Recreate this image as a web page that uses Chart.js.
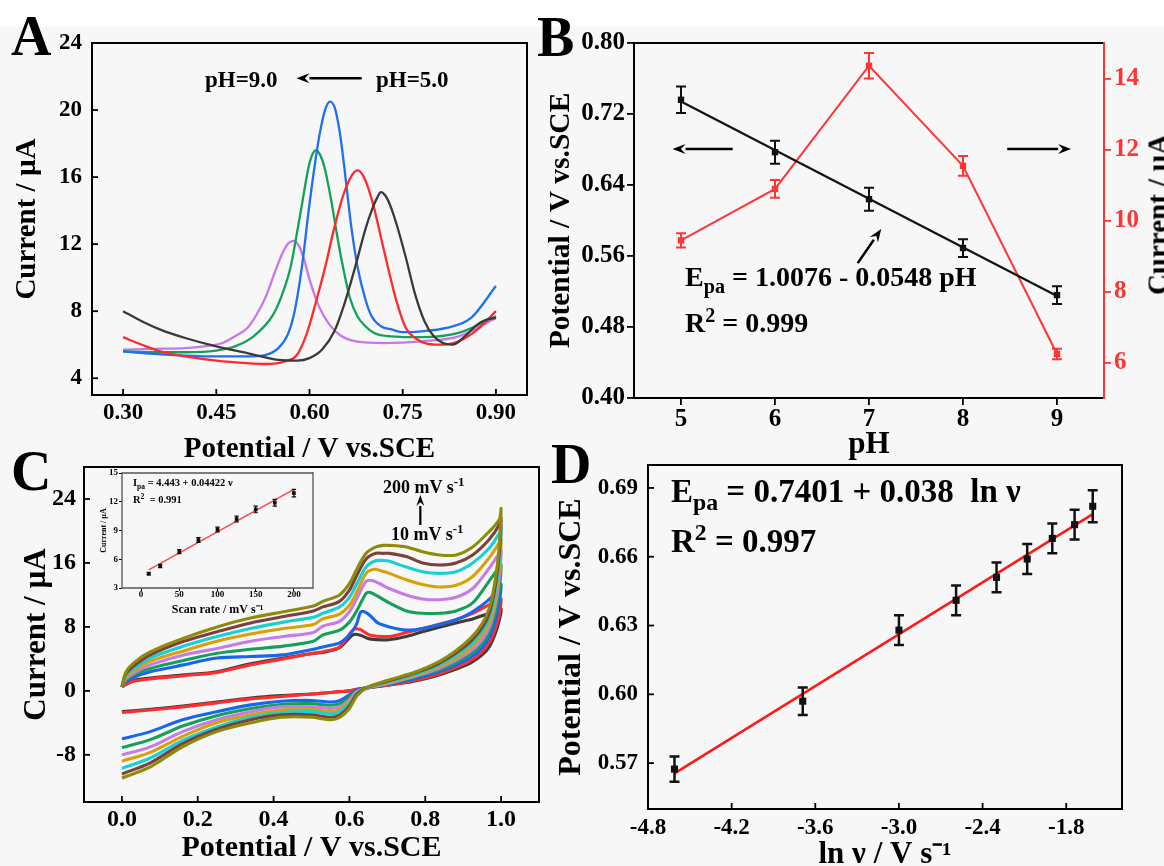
<!DOCTYPE html>
<html><head><meta charset="utf-8">
<script src="https://cdn.jsdelivr.net/npm/chart.js@4.4.1/dist/chart.umd.min.js"></script>
<style>
html,body{margin:0;padding:0;overflow:hidden;background:#f7f7f7;}
#wrap{position:relative;width:1164px;height:866px;overflow:hidden;background:#f7f7f7;}
#topstrip{position:absolute;left:0;top:0;width:1164px;height:27px;background:#ffffff;}
canvas{position:absolute;}
.t{position:absolute;font-family:'Liberation Serif','Times New Roman',serif;font-weight:bold;line-height:1;white-space:nowrap;color:#000;}
.t sub,.t sup{font-size:0.72em;line-height:0;}
</style></head>
<body><div id="wrap">
<div id="topstrip"></div>
<canvas id="cA" width="540" height="470" style="left:0px;top:0px"></canvas>
<canvas id="cB" width="624" height="470" style="left:540px;top:0px"></canvas>
<canvas id="cC" width="545" height="426" style="left:0px;top:440px"></canvas>
<canvas id="cD" width="624" height="440" style="left:540px;top:440px"></canvas>
<canvas id="cI" width="230" height="152" style="left:95px;top:465px"></canvas>

<div class="t" style="left:11px;top:8px;font-size:56px">A</div>
<div class="t" style="left:537px;top:9px;font-size:56px">B</div>
<div class="t" style="left:11px;top:443px;font-size:56px">C</div>
<div class="t" style="left:551px;top:436px;font-size:56px">D</div>

<div class="t" style="left:205px;top:68px;font-size:23px">pH=9.0</div>
<div class="t" style="left:376px;top:68px;font-size:23px">pH=5.0</div>

<div class="t" style="left:685px;top:263px;font-size:28px">E<sub>pa</sub> = 1.0076 - 0.0548 pH</div>
<div class="t" style="left:685px;top:309px;font-size:28px">R<sup>2</sup> = 0.999</div>
<div class="t" style="left:1008px;top:199.5px;width:300px;text-align:center;font-size:29px;transform:rotate(-90deg);transform-origin:150px 14.5px;">Current / µA</div>

<div class="t" style="left:383px;top:478px;font-size:18px">200 mV s<sup>-1</sup></div>
<div class="t" style="left:391px;top:525px;font-size:18px">10 mV s<sup>-1</sup></div>
<div class="t" style="left:133px;top:478px;font-size:10.5px">I<sub>pa</sub> = 4.443 + 0.04422 ν</div>
<div class="t" style="left:133px;top:495px;font-size:10.5px">R<sup>2</sup>&nbsp; = 0.991</div>

<div class="t" style="left:671px;top:475px;font-size:33px">E<sub>pa</sub> = 0.7401 + 0.038&nbsp; ln ν</div>
<div class="t" style="left:671px;top:525px;font-size:33px">R<sup>2</sup> = 0.997</div>
</div>
<script>
// ================= DATA =================
// Panel A : DPV at pH 5.0 ... 9.0  (potential V, current µA)
const A_X_TICKS = [0.30, 0.45, 0.60, 0.75, 0.90];
const A_Y_TICKS = [4, 8, 12, 16, 20, 24];
const A_PH5_V = [0.30,0.33,0.36,0.40,0.45,0.50,0.55,0.58,0.60,0.62,0.64,0.655,0.674,0.69,0.70,0.708,0.715,0.722,0.73,0.74,0.755,0.77,0.785,0.80,0.815,0.83,0.85,0.87,0.885,0.90];
const A_PH5_I = [8.0,7.4,6.9,6.4,5.9,5.5,5.1,5.05,5.2,5.7,6.8,8.3,10.7,12.9,14.0,14.7,15.1,14.9,14.3,13.2,11.2,9.0,7.4,6.5,6.1,6.0,6.5,7.2,7.5,7.6];
const A_PH6_V = [0.30,0.33,0.36,0.40,0.45,0.50,0.53,0.56,0.58,0.595,0.61,0.625,0.64,0.655,0.665,0.672,0.678,0.686,0.695,0.705,0.715,0.727,0.74,0.755,0.77,0.79,0.81,0.84,0.87,0.90];
const A_PH6_I = [6.45,6.0,5.6,5.3,5.05,4.9,4.85,5.0,5.4,6.6,8.5,10.6,13.0,15.0,15.9,16.3,16.4,16.1,15.3,14.0,12.4,10.5,8.6,7.0,6.4,6.05,6.0,6.2,6.9,8.0];
const A_PH7_V = [0.30,0.35,0.40,0.45,0.50,0.53,0.55,0.565,0.575,0.588,0.598,0.608,0.617,0.625,0.633,0.641,0.649,0.656,0.667,0.677,0.69,0.70,0.715,0.733,0.75,0.78,0.82,0.86,0.90];
const A_PH7_I = [5.6,5.45,5.35,5.3,5.3,5.4,5.8,6.6,7.8,10.7,13.8,16.6,18.7,20.0,20.5,20.1,18.6,16.6,13.1,10.7,8.7,7.7,7.1,6.9,6.75,6.8,7.0,7.6,9.5];
const A_PH8_V = [0.30,0.35,0.40,0.45,0.48,0.51,0.54,0.555,0.57,0.58,0.588,0.598,0.604,0.61,0.616,0.624,0.635,0.645,0.653,0.665,0.677,0.69,0.704,0.73,0.78,0.84,0.90];
const A_PH8_I = [5.6,5.55,5.55,5.65,5.9,6.5,7.7,8.9,10.7,12.7,14.4,16.5,17.3,17.6,17.4,16.6,14.6,12.4,10.8,8.8,7.7,7.1,6.7,6.5,6.45,6.7,7.7];
const A_PH9_V = [0.30,0.35,0.40,0.43,0.46,0.48,0.50,0.515,0.53,0.545,0.557,0.566,0.574,0.583,0.592,0.60,0.615,0.632,0.65,0.675,0.72,0.78,0.84,0.90];
const A_PH9_I = [5.7,5.75,5.8,5.9,6.1,6.5,7.0,7.8,8.9,10.4,11.5,12.05,12.2,11.9,11.0,9.9,8.3,7.2,6.55,6.2,6.1,6.2,6.5,7.6];
const A_ARROW = [0.684, 21.9, 0.579, 21.9];

// Panel B : Epa and Ipa vs pH
const B_X_TICKS = [5, 6, 7, 8, 9];
const B_Y_TICKS = [0.40, 0.48, 0.56, 0.64, 0.72, 0.80];
const B_Y2_TICKS = [6, 8, 10, 12, 14];
const B_PH = [5, 6, 7, 8, 9];
const B_EPA = [0.736, 0.677, 0.624, 0.569, 0.516];
const B_EPA_ERR = [0.015, 0.013, 0.013, 0.010, 0.010];
const B_FIT_PH = [5, 9];
const B_FIT_EPA = [0.734, 0.515];
const B_IPA = [9.44, 10.89, 14.36, 11.54, 6.24];
const B_IPA_ERR = [0.20, 0.25, 0.36, 0.28, 0.15];
const B_ARROWS = [[5.55, 0.6806, 4.91, 0.6806], [8.47, 0.6806, 9.15, 0.6806], [6.88, 0.552, 7.13, 0.5904]];

// Panel C : CVs at 10 ... 200 mV/s
const C_X_TICKS = [0.0, 0.2, 0.4, 0.6, 0.8, 1.0];
const C_Y_TICKS = [-8, 0, 8, 16, 24];
const C_RATES = [10, 25, 50, 75, 100, 125, 150, 175, 200];
const C_V_UP_10 = [0,0.01,0.031,0.075,0.163,0.251,0.339,0.426,0.505,0.53,0.574,0.609,0.627,0.653,0.705,0.75,0.793,0.881,0.925,0.95,0.98,1.0];
const C_I_UP_10 = [0.5,0.8,1.3,1.6,2.0,2.4,3.4,4.1,4.7,4.8,5.4,7.0,7.0,6.5,6.4,6.8,7.4,8.5,9.0,9.4,9.9,10.3];
const C_V_UP_25 = [0,0.01,0.031,0.075,0.163,0.251,0.339,0.426,0.505,0.53,0.574,0.609,0.627,0.653,0.705,0.75,0.793,0.881,0.925,0.968,0.995,1.0];
const C_I_UP_25 = [0.5,0.8,1.2,1.5,1.9,2.3,3.25,4.0,4.7,4.9,5.5,7.6,7.7,7.0,6.8,7.3,7.8,8.9,9.7,10.75,11.4,11.5];
const C_V_UP_50 = [0,0.01,0.031,0.075,0.163,0.251,0.339,0.426,0.505,0.53,0.574,0.60,0.618,0.631,0.65,0.675,0.705,0.75,0.793,0.881,0.925,0.968,0.995,1.0];
const C_I_UP_50 = [0.5,1.1,1.7,2.4,3.25,4.1,4.3,4.5,5.2,5.5,6.0,7.0,8.25,9.9,9.6,8.5,8.0,7.6,7.8,8.9,9.9,11.4,13.0,13.3];
const C_V_UP_75 = [0,0.01,0.031,0.075,0.163,0.251,0.339,0.426,0.505,0.53,0.574,0.60,0.618,0.644,0.655,0.68,0.705,0.75,0.793,0.837,0.881,0.925,0.968,0.995,1.0];
const C_I_UP_75 = [0.5,1.3,2.0,2.8,3.8,4.7,5.2,5.6,6.2,7.0,7.6,8.6,9.9,12.2,12.3,11.7,11.0,10.0,9.7,9.7,10.0,11.0,13.7,15.5,15.8];
const C_V_UP_100 = [0,0.01,0.031,0.075,0.163,0.251,0.339,0.426,0.505,0.53,0.574,0.60,0.618,0.644,0.66,0.68,0.705,0.75,0.793,0.837,0.881,0.925,0.968,0.995,1.0];
const C_I_UP_100 = [0.5,1.5,2.2,3.25,4.5,5.3,6.2,6.8,7.3,8.1,8.7,9.9,11.4,13.7,13.8,13.4,12.8,12.0,11.5,11.4,11.7,12.8,15.3,17.2,17.6];
const C_V_UP_125 = [0,0.01,0.031,0.075,0.163,0.251,0.339,0.426,0.505,0.53,0.574,0.60,0.618,0.644,0.665,0.685,0.705,0.75,0.793,0.837,0.881,0.925,0.968,0.995,1.0];
const C_I_UP_125 = [0.5,1.7,2.5,3.7,5.0,6.2,7.1,7.8,8.3,9.0,9.6,10.7,12.2,14.7,15.2,15.0,14.7,13.9,13.3,13.0,13.2,14.3,16.6,18.5,18.9];
const C_V_UP_150 = [0,0.01,0.031,0.075,0.163,0.251,0.339,0.426,0.505,0.53,0.574,0.60,0.618,0.644,0.67,0.69,0.705,0.75,0.793,0.837,0.881,0.925,0.968,0.995,1.0];
const C_I_UP_150 = [0.5,1.9,2.8,4.1,5.6,6.8,7.8,8.6,9.2,9.7,10.5,11.7,13.25,15.5,16.3,16.3,16.2,15.5,14.9,14.7,14.9,16.0,17.8,19.7,20.4];
const C_V_UP_175 = [0,0.01,0.031,0.075,0.163,0.251,0.339,0.426,0.505,0.53,0.574,0.60,0.618,0.644,0.67,0.69,0.705,0.75,0.793,0.837,0.881,0.925,0.968,0.995,1.0];
const C_I_UP_175 = [0.5,2.1,3.1,4.5,6.2,7.4,8.5,9.3,10.0,10.5,11.2,12.6,14.3,16.5,17.2,17.2,17.2,16.8,16.0,15.75,16.0,17.0,18.9,20.75,21.6];
const C_V_UP_200 = [0,0.01,0.031,0.075,0.163,0.251,0.339,0.426,0.505,0.53,0.574,0.60,0.618,0.644,0.67,0.69,0.705,0.75,0.793,0.837,0.881,0.925,0.968,0.995,1.0];
const C_I_UP_200 = [0.5,2.3,3.5,4.9,6.6,8.0,9.1,9.9,10.6,11.2,12.0,13.4,15.1,17.2,18.0,18.2,18.2,18.0,17.4,17.0,17.0,18.0,19.9,21.4,22.8];
const C_V_DOWN = [0.995,0.985,0.97,0.95,0.92,0.88,0.83,0.77,0.70,0.65,0.62,0.60,0.575,0.55,0.50,0.42,0.34,0.25,0.16,0.075,0.0];
const C_I_DOWN_10 = [8.8,7.2,5.6,4.5,3.5,2.7,1.9,1.2,0.7,0.4,0.2,0.0,-0.1,-0.2,-0.4,-0.6,-0.9,-1.4,-1.9,-2.3,-2.6];
const C_I_DOWN_25 = [9.5,7.8,6.1,4.9,3.8,2.9,2.0,1.3,0.7,0.4,0.2,0.0,-0.1,-0.2,-0.4,-0.7,-1.0,-1.5,-2.0,-2.4,-2.7];
const C_I_DOWN_50 = [11.0,8.8,6.8,5.4,4.2,3.2,2.3,1.5,0.8,0.4,0.1,-0.5,-1.2,-1.4,-1.2,-1.3,-1.75,-2.6,-3.6,-5.1,-6.0];
const C_I_DOWN_75 = [12.5,9.8,7.5,5.9,4.6,3.5,2.5,1.7,0.9,0.4,0.0,-0.8,-1.6,-1.8,-1.6,-1.7,-2.2,-3.1,-4.4,-6.1,-7.1];
const C_I_DOWN_100 = [14.0,10.8,8.1,6.4,5.0,3.8,2.7,1.8,0.9,0.4,-0.1,-1.1,-2.0,-2.2,-2.0,-2.0,-2.6,-3.6,-5.1,-7.0,-8.0];
const C_I_DOWN_125 = [15.0,11.6,8.7,6.9,5.4,4.1,2.9,1.9,1.0,0.5,-0.2,-1.3,-2.3,-2.6,-2.3,-2.4,-3.0,-4.0,-5.7,-7.7,-8.8];
const C_I_DOWN_150 = [16.0,12.4,9.3,7.4,5.8,4.4,3.1,2.0,1.1,0.5,-0.3,-1.6,-2.6,-2.9,-2.6,-2.7,-3.3,-4.5,-6.2,-8.4,-9.7];
const C_I_DOWN_175 = [17.0,13.2,9.9,7.9,6.2,4.7,3.3,2.2,1.2,0.5,-0.4,-1.9,-3.0,-3.3,-3.0,-3.0,-3.6,-4.8,-6.6,-9.0,-10.4];
const C_I_DOWN_200 = [18.0,14.0,10.5,8.4,6.6,5.0,3.5,2.3,1.3,0.5,-0.6,-2.2,-3.3,-3.6,-3.3,-3.3,-4.0,-5.1,-7.0,-9.5,-10.9];
const C_ARROW = [0.787, 20.75, 0.787, 24.5];

// Panel C inset : Ipa vs scan rate
const IN_X_TICKS = [0, 50, 100, 150, 200];
const IN_Y_TICKS = [3, 6, 9, 12, 15];
const IN_RATE = [10, 25, 50, 75, 100, 125, 150, 175, 200];
const IN_IPA = [4.5, 5.3, 6.8, 8.0, 9.1, 10.2, 11.2, 11.9, 12.9];
const IN_ERR = [0.12, 0.18, 0.22, 0.25, 0.25, 0.30, 0.35, 0.35, 0.40];
const IN_FIT_X = [10, 200];
const IN_FIT_Y = [4.88, 13.29];

// Panel D : Epa vs ln(v)
const D_X_TICKS = [-4.8, -4.2, -3.6, -3.0, -2.4, -1.8];
const D_Y_TICKS = [0.57, 0.60, 0.63, 0.66, 0.69];
const D_LNV = [-4.61, -3.69, -3.00, -2.59, -2.30, -2.08, -1.90, -1.74, -1.61];
const D_EPA = [0.5674, 0.597, 0.628, 0.641, 0.651, 0.659, 0.668, 0.674, 0.682];
const D_ERR = [0.0055, 0.006, 0.0065, 0.0065, 0.0065, 0.0065, 0.0065, 0.0065, 0.007];
const D_FIT_X = [-4.61, -1.61];
const D_FIT_Y = [0.5655, 0.6786];

// ================= HELPERS =================
const FONT = "'Liberation Serif','Times New Roman',serif";
Chart.defaults.font.family = FONT;
const pts = (xs, ys) => xs.map((x, i) => ({x: x, y: ys[i]}));

function axis(o) {
  return {
    type: 'linear', position: o.pos, min: o.min, max: o.max,
    afterBuildTicks: s => { s.ticks = o.ticks.map(v => ({value: v})); },
    afterFit: s => { if (s.isHorizontal()) s.height = o.size; else s.width = o.size; },
    ticks: { autoSkip: false, maxRotation: 0, minRotation: 0, padding: o.pad, color: o.color || '#000',
             font: {family: FONT, size: o.fs, weight: 'bold'}, callback: v => o.fmt(v) },
    grid: { display: !!o.out, drawOnChartArea: false, drawTicks: !!o.out, tickLength: o.out || 0,
            color: o.color || '#000', lineWidth: o.tw || 1.8 },
    border: { display: false },
    title: o.title ? { display: true, text: o.title, color: '#000',
             font: {family: FONT, size: o.tfs, weight: 'bold'}, padding: o.tpad } : { display: false }
  };
}

const framePlugin = {
  id: 'frame',
  afterDraw(chart, args, opts) {
    const ctx = chart.ctx, a = chart.chartArea;
    ctx.save();
    ctx.lineWidth = opts.width || 2;
    ctx.strokeStyle = opts.color || '#000';
    ctx.beginPath();
    ctx.moveTo(a.right, a.top); ctx.lineTo(a.left, a.top); ctx.lineTo(a.left, a.bottom); ctx.lineTo(a.right, a.bottom);
    ctx.stroke();
    ctx.strokeStyle = opts.rightColor || opts.color || '#000';
    ctx.beginPath(); ctx.moveTo(a.right, a.top - 1); ctx.lineTo(a.right, a.bottom + 1); ctx.stroke();
    ctx.restore();
  }
};
const inTickPlugin = {
  id: 'inTicks',
  afterDraw(chart, args, opts) {
    if (!opts.len) return;
    const ctx = chart.ctx, a = chart.chartArea;
    ctx.save(); ctx.strokeStyle = '#000'; ctx.lineWidth = opts.width || 1.8;
    Object.values(chart.scales).forEach(s => {
      s.ticks.forEach(t => {
        const p = s.getPixelForValue(t.value);
        ctx.beginPath();
        if (s.isHorizontal()) { ctx.moveTo(p, a.bottom); ctx.lineTo(p, a.bottom - opts.len); }
        else { ctx.moveTo(a.left, p); ctx.lineTo(a.left + opts.len, p); }
        ctx.stroke();
      });
    });
    ctx.restore();
  }
};
const errPlugin = {
  id: 'errBars',
  afterDatasetsDraw(chart) {
    const ctx = chart.ctx;
    chart.data.datasets.forEach((ds, di) => {
      if (!ds.errors) return;
      const meta = chart.getDatasetMeta(di);
      const xs = chart.scales[meta.xAxisID], ys = chart.scales[meta.yAxisID];
      ctx.save(); ctx.strokeStyle = ds.errColor; ctx.lineWidth = ds.errWidth;
      ds.data.forEach((d, i) => {
        const x = xs.getPixelForValue(d.x);
        const y1 = ys.getPixelForValue(d.y - ds.errors[i]);
        const y2 = ys.getPixelForValue(d.y + ds.errors[i]);
        const c = ds.errCap;
        ctx.beginPath();
        ctx.moveTo(x, y1); ctx.lineTo(x, y2);
        ctx.moveTo(x - c, y1); ctx.lineTo(x + c, y1);
        ctx.moveTo(x - c, y2); ctx.lineTo(x + c, y2);
        ctx.stroke();
      });
      ctx.restore();
    });
  }
};
const arrowPlugin = {
  id: 'arrows',
  afterDraw(chart, args, opts) {
    if (!opts.list) return;
    const ctx = chart.ctx;
    opts.list.forEach(ar => {
      const xs = chart.scales.x, ys = chart.scales.y;
      const x1 = xs.getPixelForValue(ar[0]), y1 = ys.getPixelForValue(ar[1]);
      const x2 = xs.getPixelForValue(ar[2]), y2 = ys.getPixelForValue(ar[3]);
      const ang = Math.atan2(y2 - y1, x2 - x1), L = opts.head, W = opts.hw;
      const bx = x2 - L * Math.cos(ang), by = y2 - L * Math.sin(ang);
      ctx.save(); ctx.strokeStyle = '#000'; ctx.fillStyle = '#000'; ctx.lineWidth = opts.lw;
      ctx.beginPath(); ctx.moveTo(x1, y1); ctx.lineTo(bx, by); ctx.stroke();
      ctx.beginPath(); ctx.moveTo(x2, y2);
      ctx.lineTo(bx + W * Math.sin(ang), by - W * Math.cos(ang));
      ctx.lineTo(bx + 0.35 * L * Math.cos(ang), by + 0.35 * L * Math.sin(ang));
      ctx.lineTo(bx - W * Math.sin(ang), by + W * Math.cos(ang));
      ctx.closePath(); ctx.fill();
      ctx.restore();
    });
  }
};
const PLUGINS = [framePlugin, inTickPlugin, errPlugin, arrowPlugin];
const base = (pad, plug) => ({
  responsive: false, maintainAspectRatio: false, animation: false, devicePixelRatio: 1, events: [],
  layout: { padding: pad },
  plugins: Object.assign({ legend: {display: false}, tooltip: {enabled: false} }, plug)
});
const f2 = v => v.toFixed(2), f1 = v => v.toFixed(1), f0 = v => String(v);

// ================= PANEL A =================
const A_COL = ['#3a3a3a', '#ff2b2b', '#1f6fef', '#12a05c', '#c678ea'];
const A_SETS = [[A_PH5_V, A_PH5_I], [A_PH6_V, A_PH6_I], [A_PH7_V, A_PH7_I], [A_PH8_V, A_PH8_I], [A_PH9_V, A_PH9_I]];
new Chart(document.getElementById('cA'), {
  type: 'scatter',
  data: { datasets: A_SETS.map((s, i) => ({
    label: ['pH 5.0', 'pH 6.0', 'pH 7.0', 'pH 8.0', 'pH 9.0'][i],
    data: pts(s[0], s[1]), showLine: true, pointRadius: 0, borderColor: A_COL[i], borderWidth: 2.3,
    cubicInterpolationMode: 'monotone' })) },
  options: Object.assign(base({left: 0, top: 43, right: 13, bottom: 0},
      { frame: {width: 2}, inTicks: {len: 6, width: 1.8}, arrows: {list: [A_ARROW], lw: 2.5, head: 13, hw: 5} }), {
    scales: {
      x: axis({pos: 'bottom', min: 0.25, max: 0.95, ticks: A_X_TICKS, size: 75, pad: 4, fs: 23, fmt: f2,
               title: 'Potential / V vs.SCE', tfs: 29, tpad: {top: 0, bottom: 3}}),
      y: axis({pos: 'left', min: 3, max: 24, ticks: A_Y_TICKS, size: 92, pad: 10, fs: 23, fmt: f0,
               title: 'Current / µA', tfs: 29, tpad: {top: 10.6, bottom: 0}})
    }
  }),
  plugins: PLUGINS
});

// ================= PANEL B =================
new Chart(document.getElementById('cB'), {
  type: 'scatter',
  data: { datasets: [
    { label: 'Epa', data: pts(B_PH, B_EPA), yAxisID: 'y', pointStyle: 'rect', pointRadius: 4.5,
      backgroundColor: '#111', borderColor: '#111', borderWidth: 0,
      errors: B_EPA_ERR, errColor: '#111', errWidth: 2, errCap: 5 },
    { label: 'Epa fit', data: pts(B_FIT_PH, B_FIT_EPA), yAxisID: 'y', showLine: true, pointRadius: 0,
      borderColor: '#111', borderWidth: 2.2 },
    { label: 'Ipa', data: pts(B_PH, B_IPA), yAxisID: 'y2', showLine: true, pointStyle: 'rect', pointRadius: 4.5,
      backgroundColor: '#ff3535', borderColor: '#ff3535', borderWidth: 2, pointBorderWidth: 0,
      errors: B_IPA_ERR, errColor: '#ff3535', errWidth: 2, errCap: 5 }
  ] },
  options: Object.assign(base({left: 0, top: 43, right: 0, bottom: 0},
      { frame: {width: 2, rightColor: '#ff3535'}, arrows: {list: B_ARROWS, lw: 2.5, head: 13, hw: 5} }), {
    scales: {
      x: axis({pos: 'bottom', min: 4.5, max: 9.5, ticks: B_X_TICKS, size: 72, out: 7, pad: 0, fs: 25, fmt: f0,
               title: 'pH', tfs: 31, tpad: {top: 0, bottom: 6.4}}),
      y: axis({pos: 'left', min: 0.40, max: 0.80, ticks: B_Y_TICKS, size: 94, out: 7, pad: 2, fs: 25, fmt: f2,
               title: 'Potential / V vs.SCE', tfs: 29.5, tpad: {top: 3.3, bottom: 0}}),
      y2: axis({pos: 'right', min: 5, max: 15, ticks: B_Y2_TICKS, size: 60, out: 7, pad: 3, fs: 25, fmt: f0,
               color: '#ff3535'})
    }
  }),
  plugins: PLUGINS
});

// ================= PANEL C =================
const C_COL = ['#3d3d3d', '#ff2d2d', '#1866ee', '#15a05a', '#c77be6', '#d6a10a', '#17d1d1', '#7d3f3f', '#8c8c0a'];
const C_UP = [[C_V_UP_10, C_I_UP_10], [C_V_UP_25, C_I_UP_25], [C_V_UP_50, C_I_UP_50], [C_V_UP_75, C_I_UP_75],
  [C_V_UP_100, C_I_UP_100], [C_V_UP_125, C_I_UP_125], [C_V_UP_150, C_I_UP_150], [C_V_UP_175, C_I_UP_175], [C_V_UP_200, C_I_UP_200]];
const C_DOWN = [C_I_DOWN_10, C_I_DOWN_25, C_I_DOWN_50, C_I_DOWN_75, C_I_DOWN_100, C_I_DOWN_125, C_I_DOWN_150, C_I_DOWN_175, C_I_DOWN_200];
new Chart(document.getElementById('cC'), {
  type: 'scatter',
  data: { datasets: C_RATES.map((r, i) => ({
    label: r + ' mV/s', order: 8 - i,
    data: pts(C_UP[i][0], C_UP[i][1]).concat(pts(C_V_DOWN, C_DOWN[i])),
    showLine: true, pointRadius: 0, borderColor: C_COL[i], borderWidth: 3.1, tension: 0.3 })) },
  options: Object.assign(base({left: 0, top: 27, right: 6, bottom: 0},
      { frame: {width: 2}, inTicks: {len: 6, width: 1.8}, arrows: {list: [C_ARROW], lw: 2.2, head: 11, hw: 4} }), {
    scales: {
      x: axis({pos: 'bottom', min: -0.1, max: 1.1, ticks: C_X_TICKS, size: 64, pad: 3, fs: 24, fmt: f1,
               title: 'Potential / V vs.SCE', tfs: 30, tpad: {top: 0, bottom: 0}}),
      y: axis({pos: 'left', min: -13.9, max: 28, ticks: C_Y_TICKS, size: 84, pad: 8, fs: 24, fmt: f0,
               title: 'Current / µA', tfs: 31, tpad: {top: 18.4, bottom: 0}})
    }
  }),
  plugins: PLUGINS
});

// ================= INSET =================
new Chart(document.getElementById('cI'), {
  type: 'scatter',
  data: { datasets: [
    { label: 'Ipa', data: pts(IN_RATE, IN_IPA), pointStyle: 'rect', pointRadius: 2.6,
      backgroundColor: '#111', borderColor: '#111', borderWidth: 0,
      errors: IN_ERR, errColor: '#111', errWidth: 1.2, errCap: 2.2 },
    { label: 'fit', data: pts(IN_FIT_X, IN_FIT_Y), showLine: true, pointRadius: 0, borderColor: '#ff4444', borderWidth: 1.4 }
  ] },
  options: Object.assign(base({left: 0, top: 8, right: 12, bottom: 0}, { frame: {width: 1.3, color: '#555'} }), {
    scales: {
      x: axis({pos: 'bottom', min: -25, max: 225, ticks: IN_X_TICKS, size: 29, out: 3, tw: 1, pad: -2, fs: 9, fmt: f0,
               title: 'Scan rate / mV s⁻¹', tfs: 12, tpad: {top: 0, bottom: 0}}),
      y: axis({pos: 'left', min: 3, max: 15, ticks: IN_Y_TICKS, size: 27, out: 3, tw: 1, pad: 1, fs: 9, fmt: f0,
               title: 'Current / µA', tfs: 8, tpad: {top: 4.2, bottom: 0}})
    }
  }),
  plugins: PLUGINS
});

// ================= PANEL D =================
new Chart(document.getElementById('cD'), {
  type: 'scatter',
  data: { datasets: [
    { label: 'Epa', data: pts(D_LNV, D_EPA), pointStyle: 'rect', pointRadius: 5,
      backgroundColor: '#111', borderColor: '#111', borderWidth: 0,
      errors: D_ERR, errColor: '#111', errWidth: 2.5, errCap: 5 },
    { label: 'fit', data: pts(D_FIT_X, D_FIT_Y), showLine: true, pointRadius: 0, borderColor: '#ff1a1a', borderWidth: 2.6 }
  ] },
  options: Object.assign(base({left: 0, top: 25, right: 42, bottom: 0}, { frame: {width: 2}, inTicks: {len: 6, width: 1.8} }), {
    scales: {
      x: axis({pos: 'bottom', min: -4.8, max: -1.4, ticks: D_X_TICKS, size: 71, pad: 5, fs: 23, fmt: f1,
               title: 'ln ν / V s⁻¹', tfs: 31, tpad: {top: 0, bottom: 6.4}}),
      y: axis({pos: 'left', min: 0.55, max: 0.70, ticks: D_Y_TICKS, size: 108, pad: 10, fs: 23, fmt: f2,
               title: 'Potential / V vs.SCE', tfs: 32, tpad: {top: 12.8, bottom: 0}})
    }
  }),
  plugins: PLUGINS
});
</script>
</body></html>
